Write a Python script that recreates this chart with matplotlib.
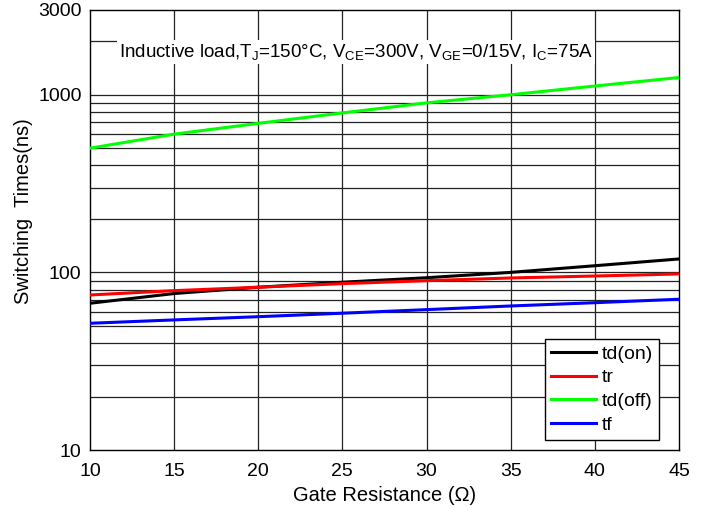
import numpy as np
import matplotlib
matplotlib.use('Agg')
import matplotlib.pyplot as plt

plt.rcParams['font.family'] = ['Liberation Sans', 'DejaVu Sans']
plt.rcParams['mathtext.fontset'] = 'custom'
plt.rcParams['mathtext.rm'] = 'Liberation Sans'
plt.rcParams['mathtext.it'] = 'Liberation Sans'

rg = [10, 15, 20, 25, 30, 35, 40, 45]
td_on = [67, 76, 82.5, 88, 93.3, 100, 109, 119]
tr = [74.6, 78.9, 82.5, 86.4, 89.8, 93, 95.4, 98]
td_off = [500, 600, 690, 790, 900, 1000, 1120, 1250]
tf = [51.7, 54, 56.3, 58.9, 61.7, 64.7, 67.5, 70.6]

x_ticks = [10, 15, 20, 25, 30, 35, 40, 45]
y_ticks = [10, 100, 1000, 3000]
y_grid = [20, 30, 40, 50, 60, 70, 80, 90, 100,
          200, 300, 400, 500, 600, 700, 800, 900, 1000, 2000]

fig = plt.figure(figsize=(7.08, 5.07), dpi=100)
ax = fig.add_axes([0.127, 0.1124, 0.832, 0.8679])
ax.set_yscale('log')
ax.set_xlim(10, 45)
ax.set_ylim(10, 3000)

for v in y_grid:
    ax.axhline(v, color='#222222', lw=0.9, zorder=1)
for v in x_ticks[1:-1]:
    ax.axvline(v, color='#222222', lw=0.9, zorder=1)

ax.plot(rg, td_on, color='black', lw=2.2, label='td(on)', zorder=3)
ax.plot(rg, tr, color='#ff0000', lw=2.2, label='tr', zorder=3)
ax.plot(rg, td_off, color='#00ff00', lw=2.2, label='td(off)', zorder=3)
ax.plot(rg, tf, color='#0000ff', lw=2.2, label='tf', zorder=3)

ax.set_xticks(x_ticks)
ax.set_xticklabels([str(v) for v in x_ticks])
ax.set_yticks(y_ticks)
ax.set_yticklabels([str(v) for v in y_ticks])
ax.yaxis.set_minor_locator(matplotlib.ticker.NullLocator())
ax.tick_params(length=0, labelsize=14, colors='black')
ax.tick_params(axis='x', pad=9)
ax.tick_params(axis='y', pad=6)
for s in ax.spines.values():
    s.set_linewidth(1.0)

ax.set_xlabel('Gate Resistance (\u03a9)', fontsize=14.5, labelpad=5)
ax.set_ylabel('Switching  Times(ns)', fontsize=14.5)
ax.yaxis.set_label_coords(-0.097, 0.543)

ax.text(0.452, 0.905,
        r'Inductive load,T$_{J}$=150°C, V$_{CE}$=300V, V$_{GE}$=0/15V, I$_{C}$=75A',
        transform=ax.transAxes, ha='center', va='center', fontsize=13.5,
        bbox=dict(facecolor='white', edgecolor='none', pad=1.5), zorder=4)

leg = ax.legend(loc='lower right', bbox_to_anchor=(0.966, 0.023), fontsize=14,
                frameon=True, fancybox=False, framealpha=1, edgecolor='black',
                handlelength=2.3, handletextpad=0.3, labelspacing=0.32,
                borderpad=0.3, borderaxespad=0.0)
leg.get_frame().set_linewidth(1.0)
leg.set_zorder(5)

fig.savefig('out.png', dpi=100)
